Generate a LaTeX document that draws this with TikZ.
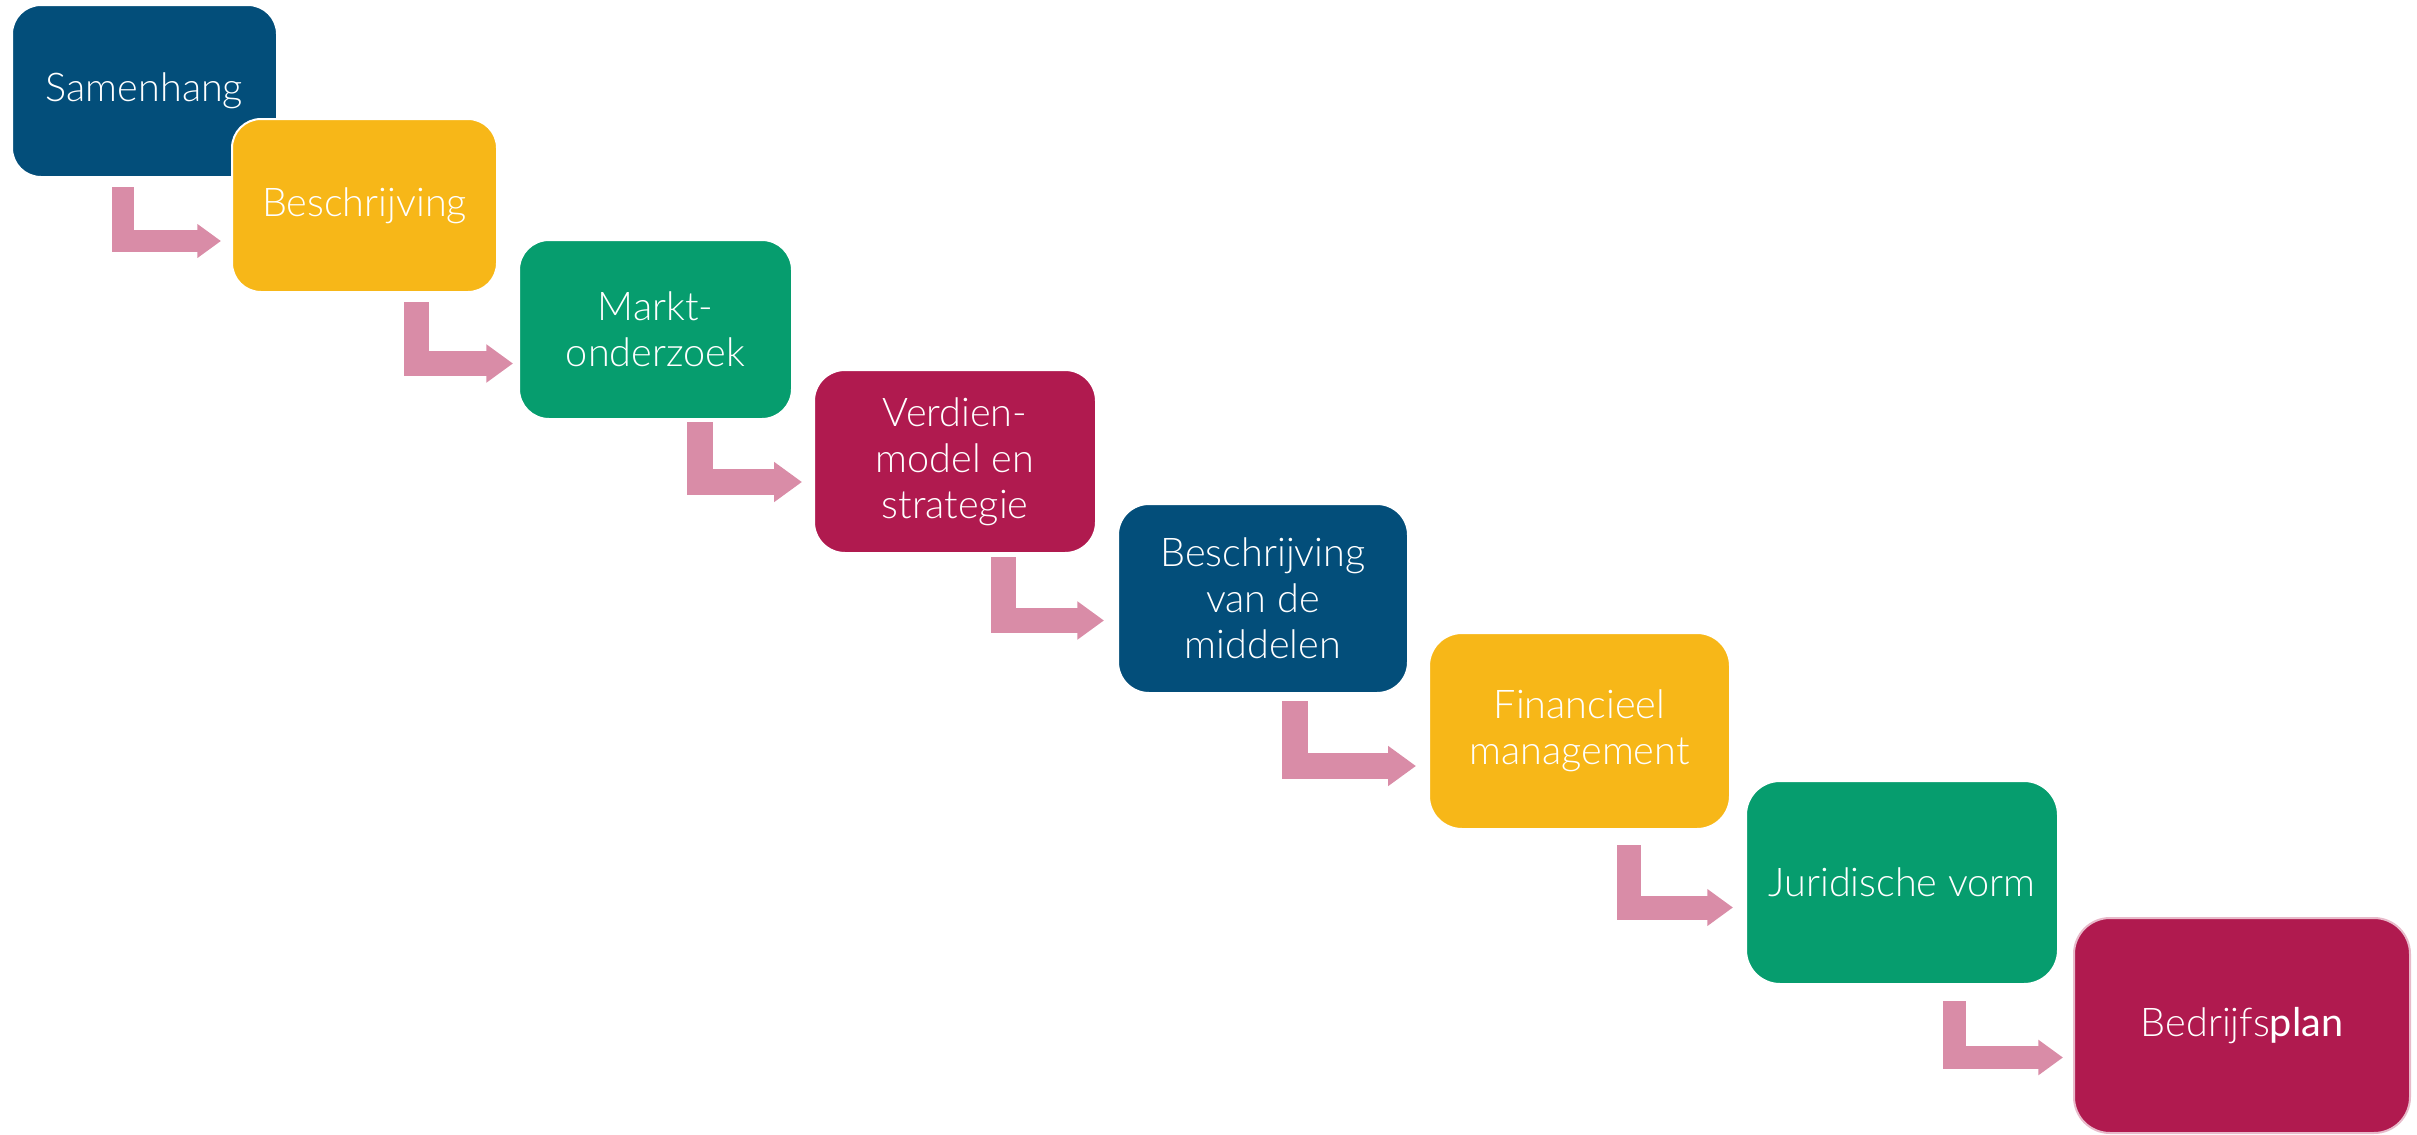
\documentclass[tikz,border=0pt]{standalone}
\usepackage{fontspec}
\setmainfont{Lato Light}
\newfontfamily\planfont{Lato}
\usetikzlibrary{arrows.meta}
\definecolor{stblue}{HTML}{034E7A}
\definecolor{styellow}{HTML}{F7B718}
\definecolor{stgreen}{HTML}{069D6E}
\definecolor{stred}{HTML}{B01A4F}
\definecolor{arrowpink}{HTML}{D98CA7}
\tikzset{
  stagebox/.style={draw=white, line width=1pt, text=white, align=center,
    inner sep=0pt, font=\fontsize{19.8pt}{23pt}\selectfont},
  flow/.style={draw=arrowpink, line width=#1, line join=miter, line cap=butt,
    -{Triangle[width=0pt 1.47, length=0pt 1.07]}}
}
\begin{document}
\begin{tikzpicture}[x=0.5pt, y=-0.5pt]
\useasboundingbox (0,0) rectangle (2417,1135);
% stages
\node[stagebox, fill=stblue, minimum width=132.5pt, minimum height=86pt, rounded corners=14.5pt] (s1) at (144.5,91) {Samenhang};
\node[stagebox, fill=styellow, minimum width=132.5pt, minimum height=86.5pt, rounded corners=14.5pt] (s2) at (364.5,205.5) {Beschrijving};
\node[stagebox, fill=stgreen, minimum width=136.5pt, minimum height=89.5pt, rounded corners=15pt] (s3) at (655.5,329.5) {Markt-\\onderzoek};
\node[stagebox, fill=stred, minimum width=141pt, minimum height=91.5pt, rounded corners=15.5pt] (s4) at (955,461.5) {Verdien-\\model en\\strategie};
\node[stagebox, fill=stblue, minimum width=145pt, minimum height=94.5pt, rounded corners=15.5pt] (s5) at (1263,598.5) {Beschrijving\\van de\\middelen};
\node[stagebox, fill=styellow, minimum width=150.5pt, minimum height=98pt, rounded corners=16.5pt] (s6) at (1579.5,731) {Financieel\\management};
\node[stagebox, fill=stgreen, minimum width=156pt, minimum height=101.5pt, rounded corners=17pt] (s7) at (1902,882.5) {Juridische vorm};
\node[stagebox, draw=arrowpink!60, fill=stred, minimum width=168pt, minimum height=107.5pt, rounded corners=18pt] (s8) at (2242,1025.5) {Bedrijfs{\planfont plan}};
% connector end points
\coordinate (a1s) at (123,187);   \coordinate (a1e) at (221,241);
\coordinate (a2s) at (416.5,302); \coordinate (a2e) at (513,363.5);
\coordinate (a3s) at (700,422);   \coordinate (a3e) at (802,482);
\coordinate (a4s) at (1003.5,557);\coordinate (a4e) at (1104,620.5);
\coordinate (a5s) at (1295,701);  \coordinate (a5e) at (1416,766);
\coordinate (a6s) at (1629,845);  \coordinate (a6e) at (1733,907.5);
\coordinate (a7s) at (1954.5,1001);\coordinate (a7e) at (2063,1057.5);
% connectors
\draw[flow=11pt]   (a1s) |- (a1e);
\draw[flow=12.5pt] (a2s) |- (a2e);
\draw[flow=13pt]   (a3s) |- (a3e);
\draw[flow=12.5pt] (a4s) |- (a4e);
\draw[flow=13pt]   (a5s) |- (a5e);
\draw[flow=12pt]   (a6s) |- (a6e);
\draw[flow=11.5pt] (a7s) |- (a7e);
\end{tikzpicture}
\end{document}
